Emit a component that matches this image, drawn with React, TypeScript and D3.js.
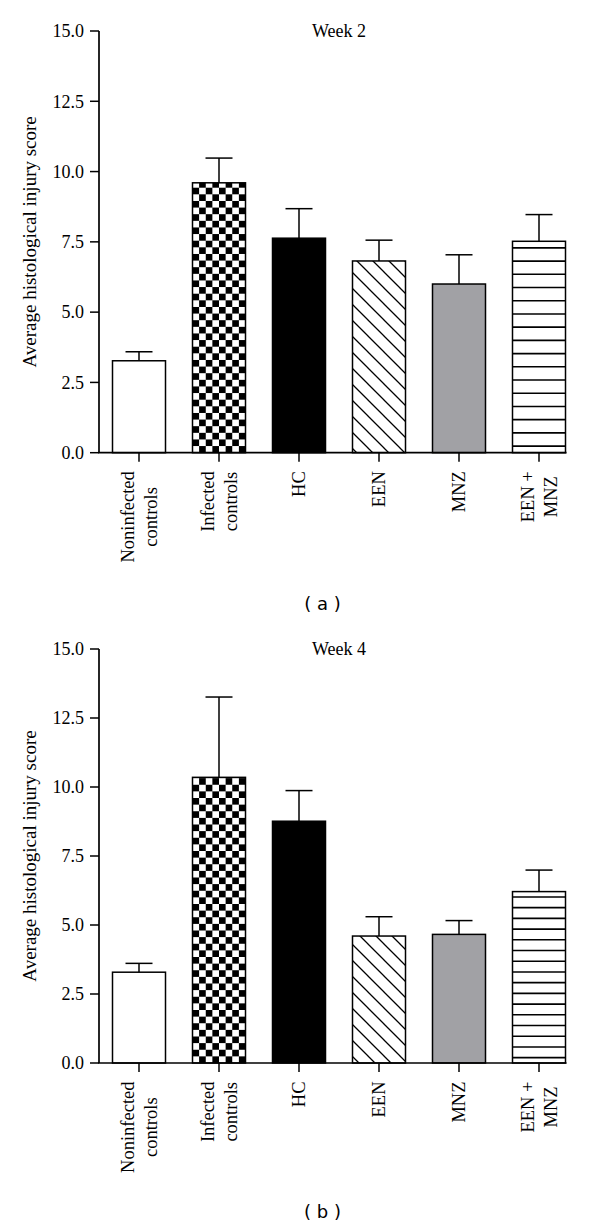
import React, { useMemo } from "react";
import * as d3 from "d3";

const categories = ["Noninfected controls", "Infected controls", "HC", "EEN", "MNZ", "EEN + MNZ"];
const labelLines = [["Noninfected", "controls"], ["Infected", "controls"], ["HC"], ["EEN"], ["MNZ"], ["EEN +", "MNZ"]];
const fills = ["white", "url(#checkP)", "black", "url(#diagP)", "#a1a1a5", "white"];
const hLines = [false, false, false, false, false, true];

const week2Means = [3.27, 9.6, 7.63, 6.82, 6.0, 7.52];
const week2Err = [0.32, 0.88, 1.05, 0.74, 1.04, 0.95];
const week4Means = [3.29, 10.35, 8.76, 4.6, 4.66, 6.21];
const week4Err = [0.32, 2.91, 1.11, 0.7, 0.5, 0.78];
const yTicks = [0, 2.5, 5, 7.5, 10, 12.5, 15];

const SERIF = "'Liberation Serif', 'Times New Roman', serif";
const LABEL_FS = 18.5;

function measure(text: string, fs: number) {
  try {
    const c = document.createElement("canvas");
    const ctx = c.getContext("2d")!;
    ctx.font = `${fs}px 'Liberation Serif'`;
    return ctx.measureText(text).width;
  } catch (e) {
    return text.length * fs * 0.45;
  }
}

function Panel({ top, bottom, means, errs, title, caption, captionY, id }: any) {
  const x = d3.scaleBand<string>().domain(categories).range([99, 579]).paddingInner(0.3375).paddingOuter(0.16875);
  const y = d3.scaleLinear().domain([0, 15]).range([bottom, top]);
  const bw = x.bandwidth();
  const fmt = d3.format(".1f");
  const lastRight = (x(categories[categories.length - 1]) as number) + bw;
  const widths = useMemo(() => labelLines.map((ls) => Math.max(...ls.map((l) => measure(l, LABEL_FS)))), []);
  return (
    <g>
      <text x={339} y={top + 6} textAnchor="middle" fontFamily={SERIF} fontSize={18}>{title}</text>
      {categories.map((c, i) => {
        const bx = x(c) as number;
        const by = y(means[i]);
        const h = bottom - by;
        const cx = bx + bw / 2;
        const ey = y(means[i] + errs[i]);
        const fill = fills[i].startsWith("url") ? fills[i].replace(")", id + ")") : fills[i];
        return (
          <g key={c}>
            <line x1={cx} x2={cx} y1={by} y2={ey} stroke="black" strokeWidth={1.5} />
            <line x1={cx - 13.5} x2={cx + 13.5} y1={ey} y2={ey} stroke="black" strokeWidth={1.5} />
            {fills[i] === "url(#checkP)" && (
              <pattern id={"checkP" + id + i} patternUnits="userSpaceOnUse" x={bx} y={bottom} width={bw / 4} height={bw / 4}>
                <rect x={0} y={0} width={bw / 8} height={bw / 8} fill="black" />
                <rect x={bw / 8} y={bw / 8} width={bw / 8} height={bw / 8} fill="black" />
              </pattern>
            )}
            <rect x={bx} y={by} width={bw} height={h}
              fill={fills[i] === "url(#checkP)" ? `url(#checkP${id}${i})` : fill}
              stroke="black" strokeWidth={1.5} />
            {hLines[i] && d3.range(16).map((k) => {
              const ly = by + ((k + 0.5) * h) / 16;
              return <line key={k} x1={bx} x2={bx + bw} y1={ly} y2={ly} stroke="black" strokeWidth={1.6} />;
            })}
          </g>
        );
      })}
      {/* axes */}
      <line x1={99} x2={99} y1={y(15)} y2={bottom} stroke="black" strokeWidth={1.7} />
      <line x1={98.2} x2={lastRight + 1} y1={bottom} y2={bottom} stroke="black" strokeWidth={1.7} />
      {yTicks.map((t) => (
        <g key={t}>
          <line x1={90} x2={99} y1={y(t)} y2={y(t)} stroke="black" strokeWidth={1.5} />
          <text x={84} y={y(t)} dy="0.35em" textAnchor="end" fontFamily={SERIF} fontSize={18}>{fmt(t)}</text>
        </g>
      ))}
      {categories.map((c, i) => {
        const cx = (x(c) as number) + bw / 2;
        const ls = labelLines[i];
        const n = ls.length;
        return (
          <g key={"l" + c}>
            <line x1={cx} x2={cx} y1={bottom} y2={bottom + 9} stroke="black" strokeWidth={1.5} />
            <g transform={`translate(${cx},${bottom + 18.5}) rotate(-90)`}>
              {ls.map((l, j) => (
                <text key={j} x={-widths[i] / 2} y={6 + (j - (n - 1) / 2) * 23} textAnchor="middle" fontFamily={SERIF} fontSize={LABEL_FS}>{l}</text>
              ))}
            </g>
          </g>
        );
      })}
      <text transform={`translate(36,${(top + bottom) / 2}) rotate(-90)`} textAnchor="middle" fontFamily={SERIF} fontSize={19}>
        Average histological injury score
      </text>
      <text x={322.5} y={captionY} textAnchor="middle" fontFamily="'DejaVu Sans', sans-serif" fontSize={18} xmlSpace="preserve">{caption}</text>
    </g>
  );
}

export default function App() {
  return (
    <svg width={600} height={1227} style={{ position: "absolute", left: 0, top: 0, background: "white" }}>
      <defs>
        <pattern id="diagPa" patternUnits="userSpaceOnUse" width={16} height={16}>
          <path d="M-4,-4 L20,20 M-4,12 L4,20 M12,-4 L20,4" stroke="black" strokeWidth={1.3} />
        </pattern>
        <pattern id="diagPb" patternUnits="userSpaceOnUse" width={16} height={16}>
          <path d="M-4,-4 L20,20 M-4,12 L4,20 M12,-4 L20,4" stroke="black" strokeWidth={1.3} />
        </pattern>
      </defs>
      <rect x={0} y={0} width={600} height={1227} fill="white" />
      <Panel id="a" top={31} bottom={452.7} means={week2Means} errs={week2Err} title="Week 2" caption="( a )" captionY={610} />
      <Panel id="b" top={649} bottom={1063} means={week4Means} errs={week4Err} title="Week 4" caption="( b )" captionY={1218} />
    </svg>
  );
}
